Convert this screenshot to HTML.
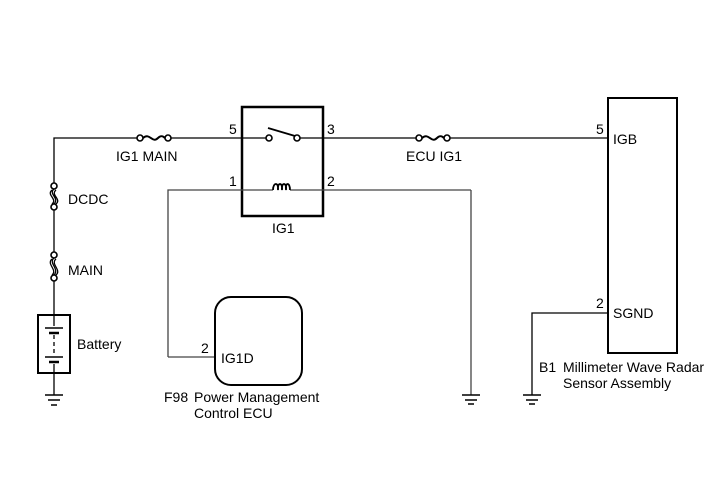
<!DOCTYPE html>
<html><head><meta charset="utf-8"><style>
html,body{margin:0;padding:0;background:#fff;}
svg text{font-family:"Liberation Sans",Arial,sans-serif;font-size:14px;fill:#000;}
</style></head><body>
<svg width="713" height="481" viewBox="0 0 713 481" xmlns="http://www.w3.org/2000/svg">
<g fill="none" stroke="#000" stroke-width="1.3">
<polyline points="54,183 54,138 137,138"/>
<line x1="171" y1="138" x2="269" y2="138"/>
<line x1="297" y1="138" x2="416" y2="138"/>
<line x1="450" y1="138" x2="608" y2="138"/>
<circle cx="140" cy="138" r="3" fill="#fff" stroke-width="1.6"/><circle cx="168" cy="138" r="3" fill="#fff" stroke-width="1.6"/>
<path d="M143,138 C150,132 152,144 158,138 C161,135 163,136 165,138" stroke-width="2"/>
<circle cx="419" cy="138" r="3" fill="#fff" stroke-width="1.6"/><circle cx="447" cy="138" r="3" fill="#fff" stroke-width="1.6"/>
<path d="M422,138 C429,132 431,144 437,138 C440,135 442,136 444,138" stroke-width="2"/>
<circle cx="54" cy="186" r="3" fill="#fff" stroke-width="1.6"/><circle cx="54" cy="207" r="3" fill="#fff" stroke-width="1.6"/>
<path d="M54,189 C48,194 60,198 54,204 M52,190 C46,195 58,199 52,204 M56,190 C50,195 62,199 56,204"/>
<line x1="54" y1="210" x2="54" y2="252"/>
<circle cx="54" cy="255" r="3" fill="#fff" stroke-width="1.6"/><circle cx="54" cy="278" r="3" fill="#fff" stroke-width="1.6"/>
<path d="M54,258 C48,263 60,269 54,275 M52,259 C46,264 58,270 52,275 M56,259 C50,264 62,270 56,275"/>
<line x1="54" y1="281" x2="54" y2="315"/>
<rect x="38" y="315" width="32" height="58" stroke-width="2"/>
<line x1="54" y1="315" x2="54" y2="326"/>
<line x1="45" y1="328" x2="63" y2="328" stroke-width="1.5"/>
<line x1="49" y1="333" x2="59" y2="333" stroke-width="2.5"/>
<line x1="54" y1="335" x2="54" y2="356" stroke-dasharray="4,3"/>
<line x1="45" y1="357" x2="63" y2="357" stroke-width="1.5"/>
<line x1="49" y1="362" x2="59" y2="362" stroke-width="2.5"/>
<line x1="54" y1="364" x2="54" y2="395"/>
<rect x="242" y="107" width="81" height="109" stroke-width="2.5"/>
<circle cx="269" cy="138" r="3" fill="#fff" stroke-width="1.6"/><circle cx="297" cy="138" r="3" fill="#fff" stroke-width="1.6"/>
<line x1="268" y1="128" x2="295" y2="136" stroke-width="1.8"/>
<polyline points="168,357 168,190 273,190" stroke="#444"/>
<line x1="290" y1="190" x2="471" y2="190" stroke="#444"/>
<path d="M273,190 C273,182 279,182 278,190 C277,182 283,182 282,190 C281,182 287,182 286,190 C285,182 290,182 290,190" stroke-width="1.8"/>
<polyline points="471,190 471,395" stroke="#444"/>
<line x1="168" y1="357" x2="215" y2="357" stroke="#444"/>
<rect x="215" y="297" width="87" height="88" rx="16" stroke-width="2"/>
<rect x="608" y="98" width="69" height="255" stroke-width="2"/>
<polyline points="608,313 532,313 532,395"/>
<g stroke-width="1.5">
<line x1="45" y1="395" x2="63" y2="395"/><line x1="48" y1="400" x2="60" y2="400"/><line x1="51" y1="405" x2="57" y2="405"/>
<line x1="462" y1="395" x2="480" y2="395"/><line x1="465" y1="400" x2="477" y2="400"/><line x1="468" y1="404" x2="474" y2="404"/>
<line x1="523" y1="395" x2="541" y2="395"/><line x1="526" y1="400" x2="538" y2="400"/><line x1="529" y1="404" x2="535" y2="404"/>
</g>
</g>
<text x="116" y="161">IG1 MAIN</text>
<text x="229" y="134">5</text>
<text x="327" y="134">3</text>
<text x="229" y="186">1</text>
<text x="327" y="186">2</text>
<text x="272" y="233">IG1</text>
<text x="406" y="161">ECU IG1</text>
<text x="68" y="204">DCDC</text>
<text x="68" y="275">MAIN</text>
<text x="77" y="349">Battery</text>
<text x="201" y="353">2</text>
<text x="221" y="363">IG1D</text>
<text x="164" y="402">F98</text>
<text x="194" y="402">Power Management</text>
<text x="194" y="418">Control ECU</text>
<text x="596" y="134">5</text>
<text x="613" y="144">IGB</text>
<text x="596" y="308">2</text>
<text x="613" y="318">SGND</text>
<text x="539" y="372">B1</text>
<text x="563" y="372">Millimeter Wave Radar</text>
<text x="563" y="388">Sensor Assembly</text>
</svg>
</body></html>
